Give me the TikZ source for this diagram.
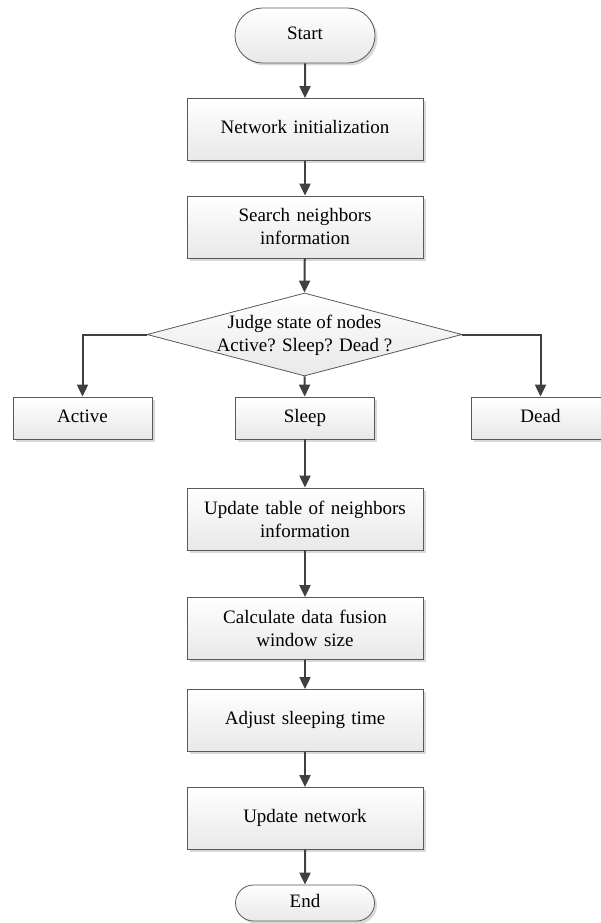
\documentclass[tikz,border=0pt]{standalone}
\usepackage{fontspec}
\setmainfont{Liberation Serif}
\usetikzlibrary{shapes.geometric,shapes.misc,arrows.meta,shadows}
\definecolor{edgegray}{HTML}{595959}
\definecolor{arrowgray}{HTML}{404040}
\tikzset{
  boxshade/.style={draw=edgegray, line width=0.8pt, top color=white, bottom color=black!9,
    drop shadow={shadow xshift=2.5pt, shadow yshift=-2.5pt, fill=black!25, opacity=0.6}},
  procbox/.style={boxshade, rectangle, minimum width=236pt, minimum height=62pt, inner sep=0pt,
    align=center, text width=230pt},
  onelinebox/.style={procbox, text height=13pt, text depth=4.5pt},
  smallbox/.style={boxshade, rectangle, minimum width=139pt, minimum height=42pt, inner sep=0pt,
    text height=13pt, text depth=4.5pt},
  termbox/.style={boxshade, rounded rectangle, inner sep=0pt, text height=13pt, text depth=4.5pt},
  judgeshape/.style={diamond, draw=edgegray, line width=0.8pt, top color=white, bottom color=black!9,
    minimum width=315pt, minimum height=83pt, inner sep=0pt},
  flow/.style={draw=arrowgray, line width=2pt, -{Triangle[width=11pt,length=12pt]}}
}
\begin{document}
\begin{tikzpicture}[x=1pt,y=-1pt, font=\fontsize{19}{23}\selectfont]
\useasboundingbox (0,0) rectangle (600,923);
\node[termbox, minimum width=140pt, minimum height=55pt] (start) at (305,35.5) {Start};
\node[onelinebox] (init) at (305,129.5) {Network initialization};
\node[procbox] (search) at (305,227) {Search neighbors\\information};
\node[judgeshape] (judge) at (304.5,334.5) {};
\node[align=center, inner sep=0pt] (judgetext) at (304.5,335) {Judge state of nodes\\Active? Sleep? Dead ?};
\node[smallbox] (active) at (82.5,418) {Active};
\node[smallbox] (sleep) at (305,418) {Sleep};
\node[smallbox] (dead) at (540.5,418) {Dead};
\node[procbox] (table) at (305,519) {Update table of neighbors\\information};
\node[procbox] (calc) at (305,628.5) {Calculate data fusion\\window size};
\node[onelinebox] (adjust) at (305,720.5) {Adjust sleeping time};
\node[onelinebox] (updnet) at (305,818.5) {Update network};
\node[termbox, minimum width=139pt, minimum height=36pt] (end) at (305,903) {End};

\draw[flow] (start) -- (init);
\draw[flow] (init) -- (search);
\draw[flow] (search) -- (judge.north);
\draw[flow] (judge.south) -- (sleep);
\draw[flow] (judge.west) -| (active.north);
\draw[flow] (judge.east) -| (dead.north);
\draw[flow] (sleep) -- (table);
\draw[flow] (table) -- (calc);
\draw[flow] (calc) -- (adjust);
\draw[flow] (adjust) -- (updnet);
\draw[flow] (updnet) -- (end);
\end{tikzpicture}
\end{document}
